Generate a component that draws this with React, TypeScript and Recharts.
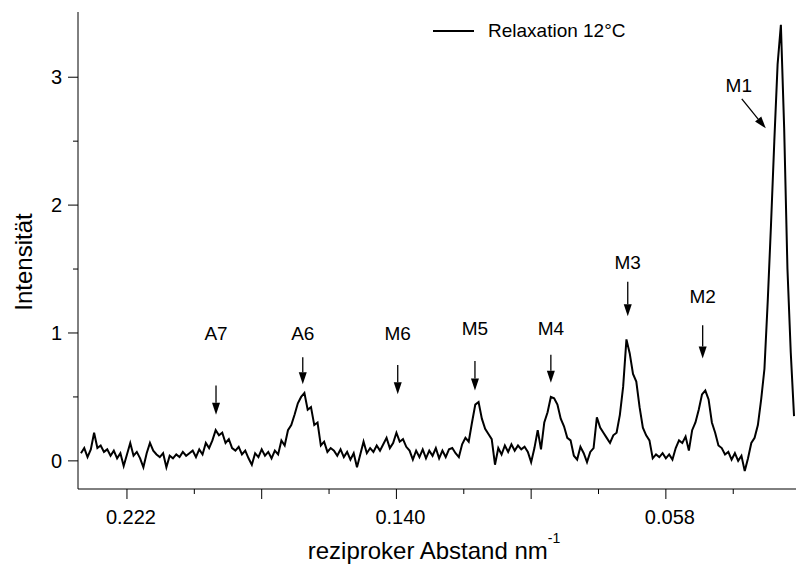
import React from 'react';
import { LineChart, Line, XAxis, YAxis, Legend, ReferenceLine, ReferenceDot } from 'recharts';

const X_START = 0.236;
const X_STEP = 0.001;

const INTENSITY = [
  // 0.236 .. 0.198
  0.06, 0.10, 0.03, 0.09, 0.22, 0.10, 0.12, 0.07, 0.09, 0.04, 0.08, 0.02, 0.06, -0.04, 0.05, 0.14, 0.04, 0.07, 0.02, -0.05,
  0.06, 0.14, 0.08, 0.05, 0.03, 0.06, -0.05, 0.04, 0.02, 0.05, 0.03, 0.07, 0.04, 0.06, 0.08, 0.03, 0.09, 0.05, 0.14,
  // 0.197 .. 0.160
  0.10, 0.16, 0.24, 0.20, 0.22, 0.14, 0.17, 0.10, 0.08, 0.11, 0.05, 0.08, 0.02, -0.03, 0.06, 0.03, 0.09, 0.04, 0.07, 0.02,
  0.08, 0.05, 0.16, 0.12, 0.24, 0.28, 0.36, 0.45, 0.50, 0.53, 0.40, 0.42, 0.28, 0.30, 0.12, 0.15, 0.07, 0.10,
  // 0.159 .. 0.122
  0.08, 0.04, 0.09, 0.03, 0.07, 0.01, 0.06, -0.05, 0.05, 0.15, 0.06, 0.10, 0.07, 0.12, 0.08, 0.13, 0.18, 0.10, 0.14, 0.22,
  0.15, 0.17, 0.11, 0.08, 0.01, 0.08, 0.03, 0.09, 0.02, 0.08, 0.04, 0.10, 0.02, 0.08, 0.03, 0.09, 0.10, 0.06,
  // 0.121 .. 0.084
  0.03, 0.13, 0.18, 0.15, 0.30, 0.44, 0.46, 0.33, 0.25, 0.21, 0.17, -0.03, 0.10, 0.05, 0.12, 0.07, 0.13, 0.08, 0.12, 0.09,
  0.11, 0.07, -0.01, 0.10, 0.24, 0.09, 0.30, 0.38, 0.50, 0.49, 0.44, 0.33, 0.27, 0.18, 0.16, 0.04, 0.01, 0.11,
  // 0.083 .. 0.048
  0.06, -0.01, 0.07, 0.10, 0.34, 0.26, 0.22, 0.18, 0.14, 0.20, 0.22, 0.36, 0.58, 0.95, 0.84, 0.68, 0.62, 0.42, 0.26, 0.20,
  0.16, 0.02, 0.05, 0.03, 0.06, 0.02, 0.05, 0.01, 0.10, 0.16, 0.14, 0.19, 0.08, 0.24, 0.30, 0.40,
  // 0.047 .. 0.019
  0.52, 0.55, 0.48, 0.30, 0.22, 0.12, 0.10, 0.05, 0.07, 0.01, 0.06, 0.00, 0.04, -0.08, 0.02, 0.14, 0.18, 0.28, 0.48, 0.72,
  1.25, 1.85, 2.50, 3.10, 3.41, 2.60, 1.50, 0.85, 0.35,
];

const X_TICKS = [0.222, 0.2015, 0.181, 0.1605, 0.14, 0.1195, 0.099, 0.0785, 0.058, 0.0375];
const X_TICK_LABELS = ['0.222', '', '', '', '0.140', '', '', '', '0.058', ''];
const Y_TICKS = [0, 0.5, 1, 1.5, 2, 2.5, 3];

// peak markers: label text, label position, arrow tail and tip
const PEAK_NAMES = ['A7', 'A6', 'M6', 'M5', 'M4', 'M3', 'M2', 'M1'];
const LABEL_X = [0.1949, 0.1685, 0.1396, 0.1161, 0.093, 0.0696, 0.0468, 0.0358];
const LABEL_Y = [1.0, 1.0, 1.0, 1.04, 1.04, 1.55, 1.29, 2.94];
const TAIL_X = [0.1949, 0.1685, 0.1396, 0.1161, 0.093, 0.0696, 0.0468, 0.0349];
const TAIL_Y = [0.59, 0.81, 0.75, 0.78, 0.83, 1.4, 1.06, 2.83];
const TIP_X = [0.1949, 0.1685, 0.1396, 0.1161, 0.093, 0.0696, 0.0468, 0.0276];
const TIP_Y = [0.36, 0.6, 0.52, 0.55, 0.61, 1.13, 0.8, 2.6];

const SERIES_NAME = 'Relaxation 12°C';

const FONT = "'Liberation Sans', Arial, sans-serif";

const data = INTENSITY.map((y, i) => ({ x: +(X_START - i * X_STEP).toFixed(4), y }));

const YTick = (props: any) => {
  const { x, y, payload } = props;
  const major = Number.isInteger(payload.value);
  return (
    <g>
      <line x1={x - (major ? 10 : 5)} x2={x} y1={y} y2={y} stroke="#000" />
      {major && (
        <text x={x - 16} y={y} dy="0.36em" textAnchor="end" fontSize={20} fontFamily={FONT} fill="#000">
          {payload.value}
        </text>
      )}
    </g>
  );
};

const XTick = (props: any) => {
  const { x, y, index } = props;
  const major = index % 2 === 0;
  return (
    <g>
      <line x1={x} x2={x} y1={y} y2={y + (major ? 10 : 5)} stroke="#000" />
      {X_TICK_LABELS[index] && (
        <text x={x + 4} y={y + 35} textAnchor="middle" fontSize={20} fontFamily={FONT} fill="#000">
          {X_TICK_LABELS[index]}
        </text>
      )}
    </g>
  );
};

const Arrow = (props: any) => {
  const { x1, y1, x2, y2 } = props;
  const len = Math.hypot(x2 - x1, y2 - y1) || 1;
  const ux = (x2 - x1) / len;
  const uy = (y2 - y1) / len;
  const head = 12;
  const half = 4;
  const bx = x2 - ux * head;
  const by = y2 - uy * head;
  return (
    <g>
      <line x1={x1} y1={y1} x2={bx} y2={by} stroke="#000" strokeWidth={1.3} />
      <polygon
        points={`${x2},${y2} ${bx - uy * half},${by + ux * half} ${bx + uy * half},${by - ux * half}`}
        fill="#000"
      />
    </g>
  );
};

const renderLegend = () => (
  <svg width={200} height={26}>
    <line x1={3} x2={44} y1={13} y2={13} stroke="#000" strokeWidth={1.8} />
    <text x={58} y={19} fontSize={19} fontFamily={FONT} fill="#000">
      {SERIES_NAME}
    </text>
  </svg>
);

export default function App() {
  return (
    <div style={{ position: 'absolute', left: 0, top: 0, width: 796, height: 577, background: '#fff' }}>
      <LineChart width={796} height={577} data={data} margin={{ top: 12, right: 0, bottom: 0, left: 0 }}>
        <XAxis
          dataKey="x"
          type="number"
          reversed
          domain={[0.0184, 0.2369]}
          allowDataOverflow
          ticks={X_TICKS}
          interval={0}
          height={88}
          tickSize={0}
          tickMargin={0}
          tickLine={false}
          tick={<XTick />}
          axisLine={{ stroke: '#000' }}
          label={{
            content: () => (
              <text x={434} y={559} textAnchor="middle" fontSize={24} fontFamily={FONT} fill="#000">
                reziproker Abstand nm
                <tspan dy={-16} fontSize={14}>-1</tspan>
              </text>
            ),
          }}
        />
        <YAxis
          type="number"
          domain={[-0.22, 3.51]}
          allowDataOverflow
          ticks={Y_TICKS}
          interval={0}
          width={78}
          tickSize={0}
          tickMargin={0}
          tickLine={false}
          tick={<YTick />}
          axisLine={{ stroke: '#000' }}
          label={{
            content: () => (
              <text
                transform="translate(32, 262) rotate(-90)"
                textAnchor="middle"
                fontSize={24}
                fontFamily={FONT}
                fill="#000"
              >
                Intensität
              </text>
            ),
          }}
        />
        <Legend
          content={renderLegend}
          layout="vertical"
          align="center"
          verticalAlign="middle"
          wrapperStyle={{ left: 430, top: 18, width: 200 }}
        />
        <Line
          type="linear"
          dataKey="y"
          name={SERIES_NAME}
          stroke="#000"
          strokeWidth={2}
          dot={false}
          activeDot={false}
          isAnimationActive={false}
        />
        {PEAK_NAMES.map((name, i) => (
          <ReferenceLine
            key={`arrow-${name}`}
            segment={[
              { x: TAIL_X[i], y: TAIL_Y[i] },
              { x: TIP_X[i], y: TIP_Y[i] },
            ]}
            ifOverflow="visible"
            shape={<Arrow />}
          />
        ))}
        {PEAK_NAMES.map((name, i) => (
          <ReferenceDot
            key={`label-${name}`}
            x={LABEL_X[i]}
            y={LABEL_Y[i]}
            r={0}
            ifOverflow="visible"
            shape={(p: any) => (
              <text x={p.cx} y={p.cy} dy="0.36em" textAnchor="middle" fontSize={19} fontFamily={FONT} fill="#000">
                {name}
              </text>
            )}
          />
        ))}
      </LineChart>
    </div>
  );
}
